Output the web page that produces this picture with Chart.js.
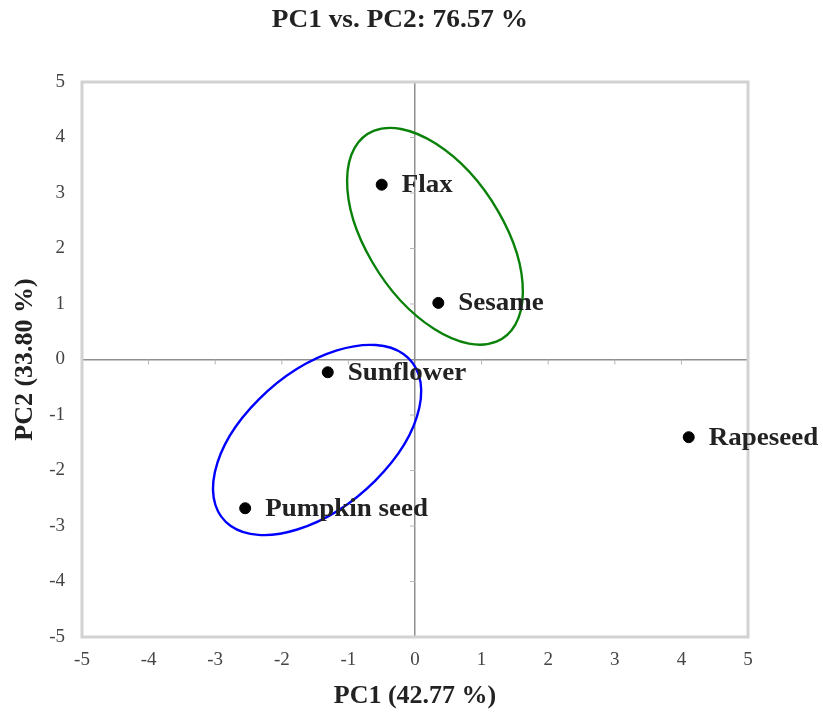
<!DOCTYPE html>
<html>
<head>
<meta charset="utf-8">
<title>PC1 vs. PC2</title>
<script src="https://cdn.jsdelivr.net/npm/chart.js@4.4.1/dist/chart.umd.min.js"></script>
<style>
    body { margin: 0; background: #fff; }
    #wrap { width: 823px; height: 712px; }
</style>
</head>
<body>
<div id="wrap"><canvas id="pcaChart"></canvas></div>
<script>
// scores
var oils = ['Flax', 'Sesame', 'Sunflower', 'Pumpkin seed', 'Rapeseed'];
var pc1 = [-0.50, 0.35, -1.31, -2.55, 4.11];
var pc2 = [3.15, 1.02, -0.23, -2.68, -1.40];
var tickValues = [-5, -4, -3, -2, -1, 0, 1, 2, 3, 4, 5];
var chartTitle = 'PC1 vs. PC2: 76.57 %';

// grouping ellipses (data units: centre, semi axes, angle in degrees)
var groupCx = [0.30, -1.47];
var groupCy = [2.22, -1.45];
var groupA = [2.11, 2.02];
var groupB = [1.05, 1.14];
var groupAngle = [-64.1, 50.1];
var groupColor = ['#0a820a', '#0000ff'];

var serif = "'Liberation Serif', 'Times New Roman', serif";

var points = [];
for (var i = 0; i < oils.length; i++) {
    points.push({ x: pc1[i], y: pc2[i], name: oils[i] });
}

// frame, small marks on the zero axes, ellipses, point names and title
var extras = {
    id: 'extras',
    beforeDatasetsDraw: function(chart) {
        var ctx = chart.ctx;
        var a = chart.chartArea;
        var xs = chart.scales.x;
        var ys = chart.scales.y;
        ctx.save();
        ctx.strokeStyle = '#d2d2d2';
        ctx.lineWidth = 3;
        ctx.strokeRect(a.left, a.top, a.right - a.left, a.bottom - a.top);

        // little ticks along the zero lines
        ctx.strokeStyle = '#b5b5b5';
        ctx.lineWidth = 1;
        var x0 = xs.getPixelForValue(0);
        var y0 = ys.getPixelForValue(0);
        tickValues.forEach(function(v) {
            if (v === 0 || v === -5 || v === 5) return;
            var px = xs.getPixelForValue(v);
            ctx.beginPath();
            ctx.moveTo(px, y0);
            ctx.lineTo(px, y0 + 5);
            ctx.stroke();
            var py = ys.getPixelForValue(v);
            ctx.beginPath();
            ctx.moveTo(x0 - 5, py);
            ctx.lineTo(x0, py);
            ctx.stroke();
        });
        ctx.restore();
    },
    afterDatasetsDraw: function(chart) {
        var ctx = chart.ctx;
        var xs = chart.scales.x;
        var ys = chart.scales.y;
        var kx = xs.getPixelForValue(1) - xs.getPixelForValue(0);
        var ky = ys.getPixelForValue(0) - ys.getPixelForValue(1);

        // ellipses
        for (var g = 0; g < groupCx.length; g++) {
            ctx.save();
            ctx.translate(xs.getPixelForValue(groupCx[g]), ys.getPixelForValue(groupCy[g]));
            ctx.scale(kx, -ky);
            ctx.beginPath();
            ctx.ellipse(0, 0, groupA[g], groupB[g], groupAngle[g] * Math.PI / 180, 0, Math.PI * 2);
            ctx.restore();
            ctx.save();
            ctx.strokeStyle = groupColor[g];
            ctx.lineWidth = 2.4;
            ctx.stroke();
            ctx.restore();
        }

        // names next to the dots (slightly widened like the original)
        chart.getDatasetMeta(0).data.forEach(function(pt, idx) {
            ctx.save();
            ctx.translate(pt.x + 20, pt.y + 1);
            ctx.scale(1.08, 1);
            ctx.font = 'bold 25px ' + serif;
            ctx.fillStyle = '#222';
            ctx.textAlign = 'left';
            ctx.textBaseline = 'middle';
            ctx.fillText(oils[idx], 0, 0);
            ctx.restore();
        });
    },
    afterDraw: function(chart) {
        // title sits a bit right of the chart's middle in the original
        var ctx = chart.ctx;
        ctx.save();
        ctx.translate(400, 27);
        ctx.scale(1.05, 1);
        ctx.font = 'bold 26px ' + serif;
        ctx.fillStyle = '#222';
        ctx.textAlign = 'center';
        ctx.textBaseline = 'alphabetic';
        ctx.fillText(chartTitle, 0, 0);
        ctx.restore();
    }
};

new Chart(document.getElementById('pcaChart'), {
    type: 'scatter',
    data: {
        datasets: [{
            label: 'Oils',
            data: points,
            backgroundColor: '#000',
            borderColor: '#000',
            pointRadius: 5.5,
            pointHoverRadius: 5.5
        }]
    },
    options: {
        responsive: true,
        maintainAspectRatio: false,
        animation: false,
        layout: { padding: { left: 0, right: 75, top: 82, bottom: 0 } },
        plugins: {
            legend: { display: false },
            tooltip: { enabled: false },
            title: { display: false }
        },
        scales: {
            x: {
                type: 'linear',
                min: -5,
                max: 5,
                afterBuildTicks: function(scale) {
                    scale.ticks = tickValues.map(function(v) { return { value: v }; });
                },
                afterFit: function(scale) { scale.height = 75; },
                border: { display: false },
                grid: {
                    drawTicks: false,
                    color: function(c) { return c.tick && c.tick.value === 0 ? '#8f8f8f' : 'rgba(0,0,0,0)'; },
                    lineWidth: 1.5
                },
                ticks: {
                    padding: 12,
                    color: '#444',
                    font: { family: serif, size: 19 }
                },
                title: {
                    display: true,
                    text: 'PC1 (42.77 %)',
                    color: '#222',
                    font: { family: serif, size: 26, weight: 'bold' },
                    padding: { top: 0, bottom: 0 }
                }
            },
            y: {
                type: 'linear',
                min: -5,
                max: 5,
                afterBuildTicks: function(scale) {
                    scale.ticks = tickValues.map(function(v) { return { value: v }; });
                },
                afterFit: function(scale) { scale.width = 82; },
                border: { display: false },
                grid: {
                    drawTicks: false,
                    color: function(c) { return c.tick && c.tick.value === 0 ? '#8f8f8f' : 'rgba(0,0,0,0)'; },
                    lineWidth: 1.5
                },
                ticks: {
                    padding: 17,
                    color: '#444',
                    font: { family: serif, size: 19 }
                },
                title: {
                    display: true,
                    text: 'PC2 (33.80 %)',
                    color: '#222',
                    font: { family: serif, size: 26, weight: 'bold' },
                    padding: { top: 9.4, bottom: 0 }
                }
            }
        }
    },
    plugins: [extras]
});
</script>
</body>
</html>
